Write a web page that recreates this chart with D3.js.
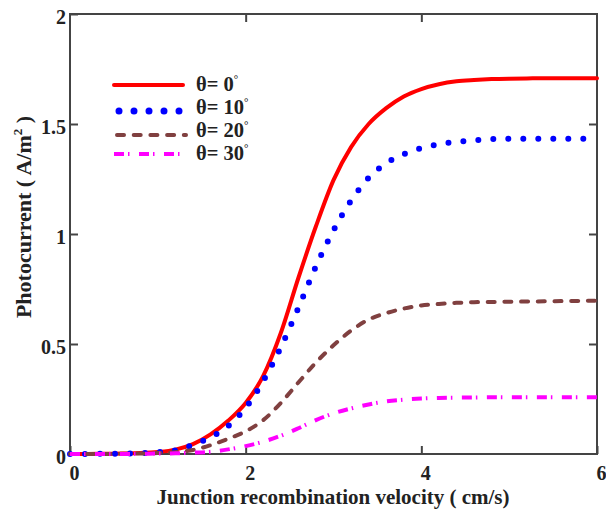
<!DOCTYPE html>
<html>
<head>
<meta charset="utf-8">
<script src="https://cdn.jsdelivr.net/npm/d3@7"></script>
<style>
  html, body { margin: 0; padding: 0; background: #fff; }
  svg { display: block; }
  text { font-family: "Liberation Serif", "Times New Roman", serif; font-weight: bold; }
</style>
</head>
<body>
<svg id="chart" width="606" height="511"></svg>
<script>
// ---- data ----
const velocity = [0, 0.2, 0.4, 0.6, 0.8, 1.0, 1.2, 1.4, 1.6, 1.8, 2.0, 2.2, 2.4, 2.6, 2.8, 3.0,
                  3.2, 3.4, 3.6, 3.8, 4.0, 4.2, 4.4, 4.6, 4.8, 5.0, 5.2, 5.4, 5.6, 5.8, 6.0];
const theta0  = [0, 0, 0.001, 0.002, 0.004, 0.009, 0.02, 0.045, 0.089, 0.151, 0.232, 0.355, 0.55, 0.80, 1.035, 1.245,
                 1.395, 1.50, 1.572, 1.625, 1.659, 1.681, 1.694, 1.700, 1.704, 1.706, 1.707, 1.708, 1.708, 1.708, 1.708];
const theta10 = [0, 0, 0.001, 0.002, 0.004, 0.008, 0.016, 0.042, 0.076, 0.127, 0.210, 0.332, 0.485, 0.664, 0.853, 1.016,
                 1.152, 1.255, 1.322, 1.363, 1.390, 1.408, 1.419, 1.426, 1.431, 1.433, 1.433, 1.433, 1.433, 1.433, 1.433];
const theta20 = [0, 0, 0, 0.001, 0.002, 0.004, 0.008, 0.018, 0.040, 0.069, 0.103, 0.154, 0.232, 0.325, 0.416, 0.494,
                 0.561, 0.611, 0.640, 0.661, 0.675, 0.682, 0.687, 0.690, 0.691, 0.692, 0.693, 0.694, 0.695, 0.696, 0.697];
const theta30 = [0, 0, 0, 0, 0.001, 0.002, 0.003, 0.006, 0.010, 0.021, 0.036, 0.056, 0.083, 0.117, 0.154, 0.185,
                 0.207, 0.225, 0.239, 0.247, 0.252, 0.255, 0.256, 0.257, 0.258, 0.258, 0.258, 0.258, 0.258, 0.258, 0.258];
const seriesNames = ["0", "10", "20", "30"];
const xTicks = [0, 2, 4, 6];
const yTicks = [0, 0.5, 1, 1.5, 2];
const yTickLabels = ["0", "0.5", "1", "1.5", "2"];
const xTitle = "Junction recombination velocity ( cm/s)";

// ---- styles ----
const styles = [
  { color: "#ff0000", width: 4, dash: null, cap: "round", lw: 4, ldash: null },
  { color: "#0000ff", width: 6, dash: "0,15", cap: "round", lw: 7, ldash: "0,15" },
  { color: "#804040", width: 4, dash: "7,9.7", cap: "round", lw: 4, ldash: "7,9.7" },
  { color: "#ff00ff", width: 4, dash: "10,4,1.5,9.5", cap: "butt", lw: 4, ldash: "10,4,1.5,9.5" }
];

const seriesValues = [theta0, theta10, theta20, theta30];

const svg = d3.select("#chart");
const margin = { left: 70, right: 9, top: 14, bottom: 57 };
const W = 606, H = 511;
const x = d3.scaleLinear().domain([0, 6]).range([margin.left, W - margin.right]);
const y = d3.scaleLinear().domain([0, 2]).range([H - margin.bottom, margin.top]);

const axisColor = "#444";
const labelColor = "#222";

// axes (inward ticks)
const gB = svg.append("g").attr("transform", `translate(0,${y(0)})`)
  .call(d3.axisBottom(x).tickValues(xTicks).tickSizeInner(-8).tickSizeOuter(0).tickPadding(12).tickFormat(d3.format("d")));
gB.selectAll("text").attr("x", 4);
const gL = svg.append("g").attr("transform", `translate(${x(0)},0)`)
  .call(d3.axisLeft(y).tickValues(yTicks).tickSizeInner(-8).tickSizeOuter(0).tickPadding(4).tickFormat((d, i) => yTickLabels[i]));
gL.selectAll("text").attr("y", 3);
const gT = svg.append("g").attr("transform", `translate(0,${y(2)})`)
  .call(d3.axisTop(x).tickValues(xTicks.slice(1, -1)).tickSizeInner(-8).tickSizeOuter(0).tickFormat(""));
const gR = svg.append("g").attr("transform", `translate(${x(6)},0)`)
  .call(d3.axisRight(y).tickValues(yTicks.slice(1, -1)).tickSizeInner(-8).tickSizeOuter(0).tickFormat(""));

[gB, gL, gT, gR].forEach(g => {
  g.select(".domain").remove();
  g.selectAll(".tick line").attr("stroke", axisColor).attr("stroke-width", 2);
  g.selectAll("text").attr("fill", labelColor).style("font-size", "20px")
    .style("font-family", '"Liberation Serif", "Times New Roman", serif').style("font-weight", "bold");
});

// frame
svg.append("rect")
  .attr("x", x(0)).attr("y", y(2))
  .attr("width", x(6) - x(0)).attr("height", y(0) - y(2))
  .attr("fill", "none").attr("stroke", axisColor).attr("stroke-width", 2);

// curves
const line = d3.line().x(d => x(d[0])).y(d => y(d[1])).curve(d3.curveMonotoneX);
seriesValues.forEach((vals, i) => {
  const s = styles[i];
  const pts = velocity.map((v, k) => [v, vals[k]]);
  svg.append("path")
    .attr("d", line(pts))
    .attr("fill", "none")
    .attr("stroke", s.color)
    .attr("stroke-width", s.width)
    .attr("stroke-linecap", s.cap)
    .attr("stroke-linejoin", "round")
    .attr("stroke-dasharray", s.dash);
});

// legend
const legendY = [85, 111, 135, 154];
const legendTextY = [91, 114, 137, 160];
seriesNames.forEach((name, i) => {
  const s = styles[i];
  const x0 = i === 1 ? 119 : (i === 2 ? 117 : 114);
  const x1 = i === 1 ? 180 : (i === 0 ? 183 : 186);
  svg.append("line")
    .attr("x1", x0).attr("x2", x1)
    .attr("y1", legendY[i]).attr("y2", legendY[i])
    .attr("stroke", s.color).attr("stroke-width", s.lw)
    .attr("stroke-linecap", s.cap).attr("stroke-dasharray", s.ldash);
  const t = svg.append("text")
    .attr("x", 196).attr("y", legendTextY[i])
    .attr("fill", labelColor).style("font-size", "20.5px");
  t.append("tspan").text("θ= " + name);
  t.append("tspan").attr("dy", -8).style("font-size", "11px").text("°");
});

// axis titles
svg.append("text")
  .attr("x", 333).attr("y", 504)
  .attr("text-anchor", "middle")
  .attr("fill", labelColor).style("font-size", "21px")
  .text(xTitle);

const yt = svg.append("text")
  .attr("transform", "translate(31,217) rotate(-90)")
  .attr("text-anchor", "middle")
  .attr("fill", labelColor).style("font-size", "22px");
yt.append("tspan").text("Photocurrent ( A/m");
yt.append("tspan").attr("dy", -9).style("font-size", "13px").text("2");
yt.append("tspan").attr("dy", 9).text(" )");
</script>
</body>
</html>
